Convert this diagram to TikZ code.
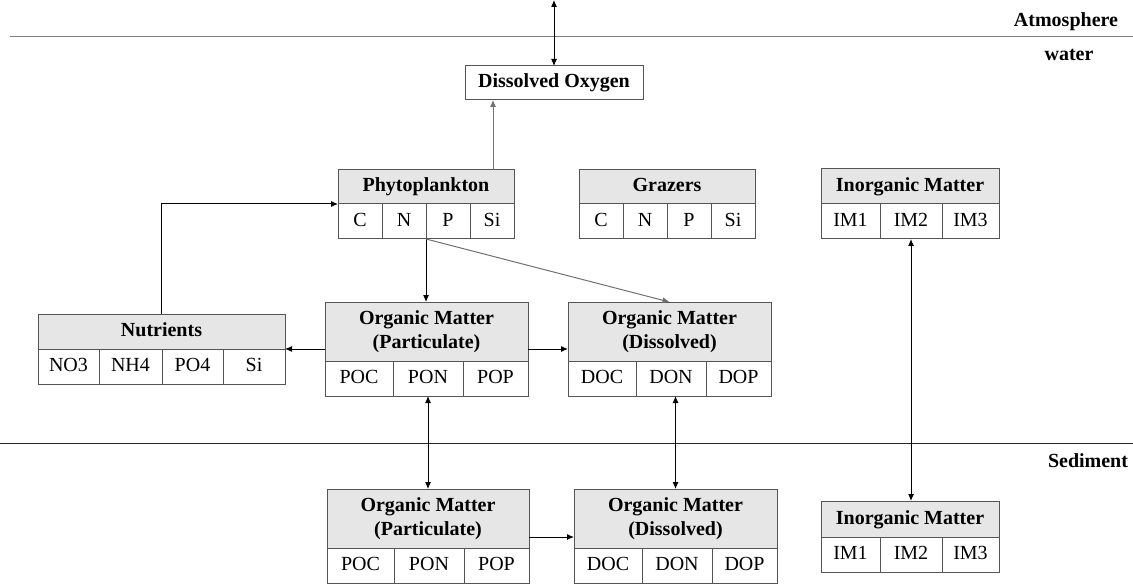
\documentclass[tikz,border=0pt]{standalone}
\usepackage{fontspec}
\setmainfont{Liberation Serif}
\usetikzlibrary{calc,arrows.meta}
\definecolor{boxline}{RGB}{85,85,85}
\definecolor{hdrfill}{RGB}{230,230,230}
\definecolor{softline}{RGB}{112,112,112}
\definecolor{layerline}{RGB}{128,128,128}
\begin{document}
\begin{tikzpicture}[x=1pt,y=-1pt,
  font=\fontsize{20}{24}\selectfont,
  boxbase/.style={draw=boxline, line width=1pt, inner sep=0pt, outer sep=0pt, anchor=north west},
  fixedtext/.style={text height=14pt, text depth=4pt},
  hdr/.style={boxbase, fixedtext, fill=hdrfill, font=\fontsize{20}{24}\selectfont\bfseries},
  hdrtwo/.style={boxbase, fill=hdrfill, align=center, font=\fontsize{20}{24}\selectfont\bfseries},
  cell/.style={boxbase, fixedtext, fill=white, minimum height=35pt},
  arr/.style={-{Latex[length=7pt,width=6pt]}, line width=1pt},
  biarr/.style={{Latex[length=7pt,width=6pt]}-{Latex[length=7pt,width=6pt]}, line width=1pt},
  layer/.style={font=\fontsize{20}{24}\selectfont\bfseries, anchor=base, inner sep=0pt}
]
\useasboundingbox (0,0) rectangle (1133,588);

% layer boundaries and their labels
\coordinate (atmL) at (10,37);
\coordinate (atmR) at (1133,37);
\coordinate (sedL) at (0,443);
\coordinate (sedR) at (1133,443);
\draw[layerline, line width=1pt] (atmL) -- (atmR);
\draw[black!85, line width=1pt] (sedL) -- (sedR);
\node[layer] (lblAtm) at (1066,27) {Atmosphere};
\node[layer] (lblWater) at (1069,61) {water};
\node[layer] (lblSed) at (1088,467) {Sediment};

% dissolved oxygen
\node[boxbase, fixedtext, fill=white, font=\fontsize{20}{24}\selectfont\bfseries,
      minimum width=178pt, minimum height=34pt] (do) at (465,66) {Dissolved Oxygen};

% phytoplankton
\node[hdr, minimum width=176pt, minimum height=34pt] (phy) at (338,170) {Phytoplankton};
\node[cell, minimum width=44pt] (phyC) at (phy.south west) {C};
\node[cell, minimum width=44pt] (phyN) at (phyC.north east) {N};
\node[cell, minimum width=44pt] (phyP) at (phyN.north east) {P};
\node[cell, minimum width=44pt] (phySi) at (phyP.north east) {Si};

% grazers
\node[hdr, minimum width=176pt, minimum height=34pt] (grz) at (579,170) {Grazers};
\node[cell, minimum width=44pt] (grzC) at (grz.south west) {C};
\node[cell, minimum width=44pt] (grzN) at (grzC.north east) {N};
\node[cell, minimum width=44pt] (grzP) at (grzN.north east) {P};
\node[cell, minimum width=44pt] (grzSi) at (grzP.north east) {Si};

% inorganic matter, water column
\node[hdr, minimum width=178pt, minimum height=35pt] (imU) at (821,169) {Inorganic Matter};
\node[cell, minimum width=59pt] (imU1) at (imU.south west) {IM1};
\node[cell, minimum width=62pt] (imU2) at (imU1.north east) {IM2};
\node[cell, minimum width=57pt] (imU3) at (imU2.north east) {IM3};

% nutrients
\node[hdr, minimum width=247pt, minimum height=35pt] (nut) at (38,314) {Nutrients};
\node[cell, minimum width=61pt] (nut1) at (nut.south west) {NO3};
\node[cell, minimum width=63pt] (nut2) at (nut1.north east) {NH4};
\node[cell, minimum width=61pt] (nut3) at (nut2.north east) {PO4};
\node[cell, minimum width=62pt] (nut4) at (nut3.north east) {Si};

% organic matter, water column
\node[hdrtwo, minimum width=203pt, minimum height=59pt] (opp) at (325,302) {Organic Matter\\(Particulate)};
\node[cell, minimum width=68pt] (ppC) at (opp.south west) {POC};
\node[cell, minimum width=70pt] (ppN) at (ppC.north east) {PON};
\node[cell, minimum width=65pt] (ppP) at (ppN.north east) {POP};

\node[hdrtwo, minimum width=203pt, minimum height=59pt] (opd) at (568,302) {Organic Matter\\(Dissolved)};
\node[cell, minimum width=68pt] (pdC) at (opd.south west) {DOC};
\node[cell, minimum width=70pt] (pdN) at (pdC.north east) {DON};
\node[cell, minimum width=65pt] (pdP) at (pdN.north east) {DOP};

% organic matter, sediment
\node[hdrtwo, minimum width=202pt, minimum height=59pt] (lpp) at (327,489) {Organic Matter\\(Particulate)};
\node[cell, minimum width=67pt] (lpC) at (lpp.south west) {POC};
\node[cell, minimum width=70pt] (lpN) at (lpC.north east) {PON};
\node[cell, minimum width=65pt] (lpP) at (lpN.north east) {POP};

\node[hdrtwo, minimum width=203pt, minimum height=59pt] (ldp) at (574,489) {Organic Matter\\(Dissolved)};
\node[cell, minimum width=68pt] (ldC) at (ldp.south west) {DOC};
\node[cell, minimum width=70pt] (ldN) at (ldC.north east) {DON};
\node[cell, minimum width=65pt] (ldP) at (ldN.north east) {DOP};

% inorganic matter, sediment
\node[hdr, minimum width=178pt, minimum height=36pt] (imL) at (821,501) {Inorganic Matter};
\node[cell, minimum width=59pt] (imL1) at (imL.south west) {IM1};
\node[cell, minimum width=62pt] (imL2) at (imL1.north east) {IM2};
\node[cell, minimum width=57pt] (imL3) at (imL2.north east) {IM3};

% exchanges
\coordinate (sky) at (554,0);
\draw[biarr] (sky) -- (do.north);
\coordinate (phyTop) at ([xshift=67pt]phy.north);
\draw[arr, softline] (phyTop) -- (phyTop |- do.south);
\draw[arr] (nut.north) |- (phy.south west);
\draw[arr] (phyN.south east) -- (phyN.south east |- opp.north);
\draw[arr, softline] (phyN.south east) -- (opd.north);
\draw[arr] (opp.west |- nut.south east) -- (nut.south east);
\draw[arr] (opp.east |- nut.south east) -- (opd.west |- nut.south east);
\draw[biarr] (ppN.south) -- (ppN.south |- lpp.north);
\draw[biarr] (pdN.south -| ldp.north) -- (ldp.north);
\coordinate (lppOut) at ($(lpp.south east)+(0,-11)$);
\draw[arr] (lppOut) -- (lppOut -| ldp.west);
\draw[biarr] (imU2.south) -- (imU2.south |- imL.north);
\end{tikzpicture}
\end{document}
